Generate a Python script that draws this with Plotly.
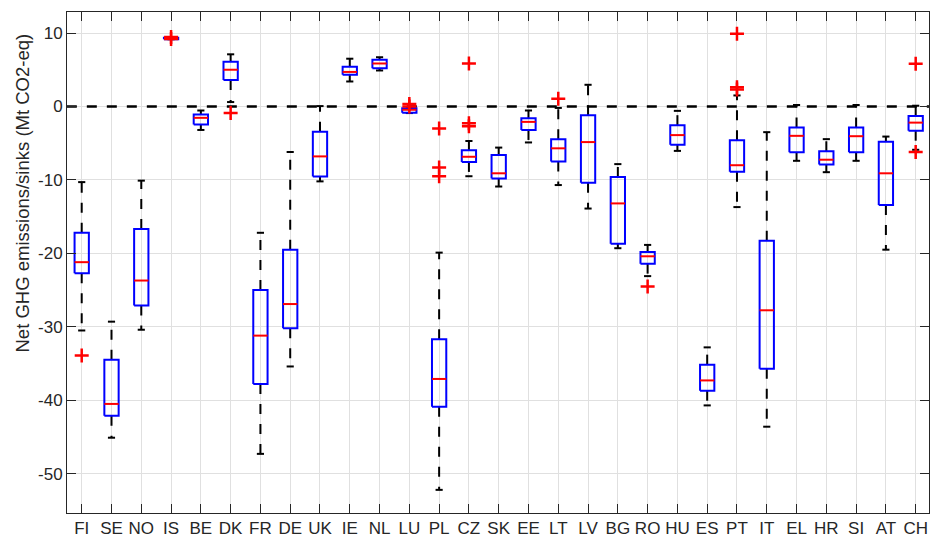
import plotly.graph_objects as go

# ---------------- data ----------------
CATEGORIES = ["FI", "SE", "NO", "IS", "BE", "DK", "FR", "DE", "UK", "IE",
              "NL", "LU", "PL", "CZ", "SK", "EE", "LT", "LV", "BG", "RO",
              "HU", "ES", "PT", "IT", "EL", "HR", "SI", "AT", "CH"]

WHISKER_LOW = [-30.5, -45.1, -30.4, 9.15, -3.2, 0.6, -47.3, -35.4, -10.2, 3.4,
               4.9, -0.9, -52.2, -9.5, -10.9, -4.9, -10.7, -13.9, -19.3, -23.1,
               -6.05, -40.7, -13.7, -43.6, -7.4, -8.95, -7.4, -19.5, -5.9]
Q1 = [-22.7, -42.1, -27.1, 9.15, -2.45, 3.6, -37.8, -30.2, -9.55, 4.3,
      5.2, -0.85, -40.9, -7.55, -9.8, -3.2, -7.5, -10.4, -18.7, -21.4,
      -5.2, -38.7, -8.9, -35.7, -6.25, -7.9, -6.25, -13.4, -3.3]
MEDIAN = [-21.2, -40.5, -23.7, 9.25, -1.55, 5.0, -31.2, -26.9, -6.8, 4.7,
          5.85, -0.45, -37.1, -6.85, -9.1, -2.1, -5.7, -4.85, -13.2, -20.4,
          -3.9, -37.3, -8.0, -27.75, -4.0, -7.25, -4.05, -9.1, -2.2]
Q3 = [-17.2, -34.5, -16.7, 9.35, -1.1, 6.1, -25.0, -19.5, -3.45, 5.4,
      6.35, -0.25, -31.7, -5.95, -6.6, -1.6, -4.45, -1.2, -9.6, -19.8,
      -2.55, -35.15, -4.6, -18.3, -2.85, -6.1, -2.85, -4.8, -1.3]
WHISKER_HIGH = [-10.3, -29.3, -10.1, 9.35, -0.55, 7.1, -17.2, -6.2, 0.05, 6.5,
                6.7, -0.2, -19.9, -4.7, -5.6, -0.55, -0.2, 2.95, -7.85, -18.85,
                -0.6, -32.8, 1.5, -3.5, 0.2, -4.45, 0.2, -4.1, 0.1]
OUTLIERS = [[-33.9], [], [], [9.45, 9.2], [], [-0.9], [], [], [], [],
            [], [0.35, 0.0], [-3.0, -8.3, -9.5], [5.85, -2.3, -2.7], [], [], [1.05], [], [], [-24.5],
            [], [], [9.9, 2.6, 2.3], [], [], [], [], [], [5.8, -6.2]]

Y_TICKS = [-50, -40, -30, -20, -10, 0, 10]
REF_LEVEL = 0
Y_LABEL = "Net GHG emissions/sinks (Mt CO2-eq)"

# ---------------- geometry / styles ----------------
BOX_HALF = 0.24
CAP_HALF = 0.12
positions = list(range(1, len(CATEGORIES) + 1))

wx, wy, cx, cy, bx, by, mx, my, ox, oy = ([] for _ in range(10))
for p, lo, a, m, b, hi, outs in zip(positions, WHISKER_LOW, Q1, MEDIAN, Q3,
                                     WHISKER_HIGH, OUTLIERS):
    wx += [p, p, None, p, p, None]
    wy += [b, hi, None, a, lo, None]
    cx += [p - CAP_HALF, p + CAP_HALF, None, p - CAP_HALF, p + CAP_HALF, None]
    cy += [hi, hi, None, lo, lo, None]
    bx += [p - BOX_HALF, p + BOX_HALF, p + BOX_HALF, p - BOX_HALF, p - BOX_HALF, None]
    by += [a, a, b, b, a, None]
    mx += [p - BOX_HALF, p + BOX_HALF, None]
    my += [m, m, None]
    for o in outs:
        ox.append(p)
        oy.append(o)

fig = go.Figure()
# reference line across the whole category span
fig.add_trace(go.Scatter(x=[positions[0] - 0.5, positions[-1] + 0.5],
                         y=[REF_LEVEL, REF_LEVEL], mode="lines", hoverinfo="skip",
                         line=dict(color="black", width=2.5, dash="10px,10px")))
fig.add_trace(go.Scatter(x=wx, y=wy, mode="lines", hoverinfo="skip",
                         line=dict(color="black", width=2, dash="10px,10px")))
fig.add_trace(go.Scatter(x=cx, y=cy, mode="lines", hoverinfo="skip",
                         line=dict(color="black", width=2)))
fig.add_trace(go.Scatter(x=bx, y=by, mode="lines", hoverinfo="skip",
                         line=dict(color="#0000ff", width=2)))
fig.add_trace(go.Scatter(x=mx, y=my, mode="lines", hoverinfo="skip",
                         line=dict(color="#ff0000", width=2)))
fig.add_trace(go.Scatter(x=ox, y=oy, mode="markers", hoverinfo="skip",
                         marker=dict(symbol="cross-thin", size=10,
                                     line=dict(color="#ff0000", width=2.5))))

L, R, T, B = 67, 1, 12, 32
W, H = 930, 545
fig.add_annotation(text=Y_LABEL, textangle=-90, showarrow=False,
                   xref="paper", yref="paper",
                   x=(21.5 - L) / (W - L - R), y=(H - B - 193) / (H - T - B),
                   xanchor="center", yanchor="middle",
                   font=dict(size=18.5, color="#262626"))

axis_common = dict(showline=True, linecolor="#262626", linewidth=1, mirror="ticks",
                   ticks="inside", ticklen=9, tickcolor="#262626",
                   showgrid=True, gridcolor="#e0e0e0", gridwidth=1,
                   zeroline=False, tickfont=dict(size=17, color="#262626"))

fig.update_layout(
    width=W, height=H,
    margin=dict(l=L, r=R, t=T, b=B, pad=0, autoexpand=False),
    paper_bgcolor="white", plot_bgcolor="white",
    showlegend=False,
    font=dict(family="Liberation Sans, Arial, sans-serif", color="#262626"),
    xaxis=dict(range=[0.506, 29.447], tickvals=positions, ticktext=CATEGORIES,
               automargin=False, **axis_common),
    yaxis=dict(range=[-55.35, 12.86], tickvals=Y_TICKS,
               ticktext=[str(v) for v in Y_TICKS], automargin=False, **axis_common),
)

fig.write_html("out.html", config={"displayModeBar": False},
               post_script="document.body.style.margin='0px';"
                           "document.body.style.overflow='hidden';")
